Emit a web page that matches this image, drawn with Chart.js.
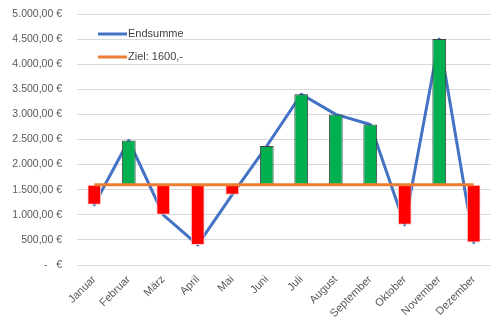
<!DOCTYPE html>
<html>
<head>
<meta charset="utf-8">
<script src="https://cdn.jsdelivr.net/npm/chart.js@4"></script>
<style>
  html, body { margin: 0; padding: 0; background: #fff; }
  #wrap { width: 503px; height: 335px; }
</style>
</head>
<body>
<div id="wrap"><canvas id="chart" width="503" height="335"></canvas></div>
<script>
const months = ['Januar', 'Februar', 'März', 'April', 'Mai', 'Juni', 'Juli', 'August', 'September', 'Oktober', 'November', 'Dezember'];
const endsumme = [1200, 2480, 1000, 400, 1400, 2370, 3400, 3000, 2800, 800, 4500, 450];
const ziel = [1600, 1600, 1600, 1600, 1600, 1600, 1600, 1600, 1600, 1600, 1600, 1600];

const green = '#00B050';
const red = '#FF0000';

const fmt = v => {
  if (v === 0) return '-   €';
  return v.toLocaleString('de-DE', { minimumFractionDigits: 2, maximumFractionDigits: 2 }) + ' €';
};

// floating up/down bars between target and value
const bars = endsumme.map((v, i) => [ziel[i], v]);
const up = endsumme.map((v, i) => v >= ziel[i]);

const insideLegend = {
  id: 'insideLegend',
  afterDraw(chart) {
    const ctx = chart.ctx;
    const items = [
      { text: 'Endsumme', color: '#4472C4', y: 34 },
      { text: 'Ziel: 1600,-', color: '#ED7D31', y: 57 },
    ];
    ctx.save();
    ctx.font = '11px "Liberation Sans", Arial, sans-serif';
    ctx.textBaseline = 'middle';
    items.forEach(item => {
      ctx.strokeStyle = item.color;
      ctx.lineWidth = 3;
      ctx.beginPath();
      ctx.moveTo(98, item.y);
      ctx.lineTo(127, item.y);
      ctx.stroke();
      ctx.fillStyle = '#404040';
      ctx.fillText(item.text, 128, item.y);
    });
    ctx.restore();
  },
};

new Chart(document.getElementById('chart').getContext('2d'), {
  data: {
    labels: months,
    datasets: [
      {
        type: 'line',
        label: 'Ziel: 1600,-',
        data: ziel,
        borderColor: '#ED7D31',
        borderWidth: 3,
        pointRadius: 0,
        order: 0,
      },
      {
        type: 'bar',
        label: 'Abweichung',
        data: bars,
        backgroundColor: up.map(u => (u ? green : red)),
        borderColor: up.map(u => (u ? '#3F3F3F' : '#FFD0D0')),
        borderWidth: 1,
        borderSkipped: false,
        categoryPercentage: 1,
        barPercentage: 0.4,
        order: 1,
      },
      {
        type: 'line',
        label: 'Endsumme',
        data: endsumme,
        borderColor: '#4472C4',
        borderWidth: 3,
        borderJoinStyle: 'round',
        borderCapStyle: 'round',
        pointRadius: 0,
        tension: 0,
        order: 2,
      },
    ],
  },
  options: {
    responsive: false,
    animation: false,
    layout: { padding: { top: 14, right: 12, left: 0, bottom: 0 } },
    plugins: {
      legend: { display: false },
      tooltip: { enabled: false },
    },
    scales: {
      x: {
        grid: { display: false, drawTicks: false },
        border: { display: false },
        ticks: {
          color: '#595959',
          font: { family: '"Liberation Sans", Arial, sans-serif', size: 11 },
          minRotation: 45,
          maxRotation: 45,
          padding: 8,
        },
        afterFit: scale => { scale.height = 70; },
      },
      y: {
        min: 0,
        max: 5000,
        grid: { color: '#D9D9D9', tickLength: 13, tickColor: 'rgba(0,0,0,0)' },
        border: { display: false },
        ticks: {
          stepSize: 500,
          color: '#595959',
          font: { family: '"Liberation Sans", Arial, sans-serif', size: 10.5 },
          padding: 2,
          callback: v => fmt(v),
        },
        afterFit: scale => { scale.width = 77; },
      },
    },
  },
  plugins: [insideLegend],
});
</script>
</body>
</html>
